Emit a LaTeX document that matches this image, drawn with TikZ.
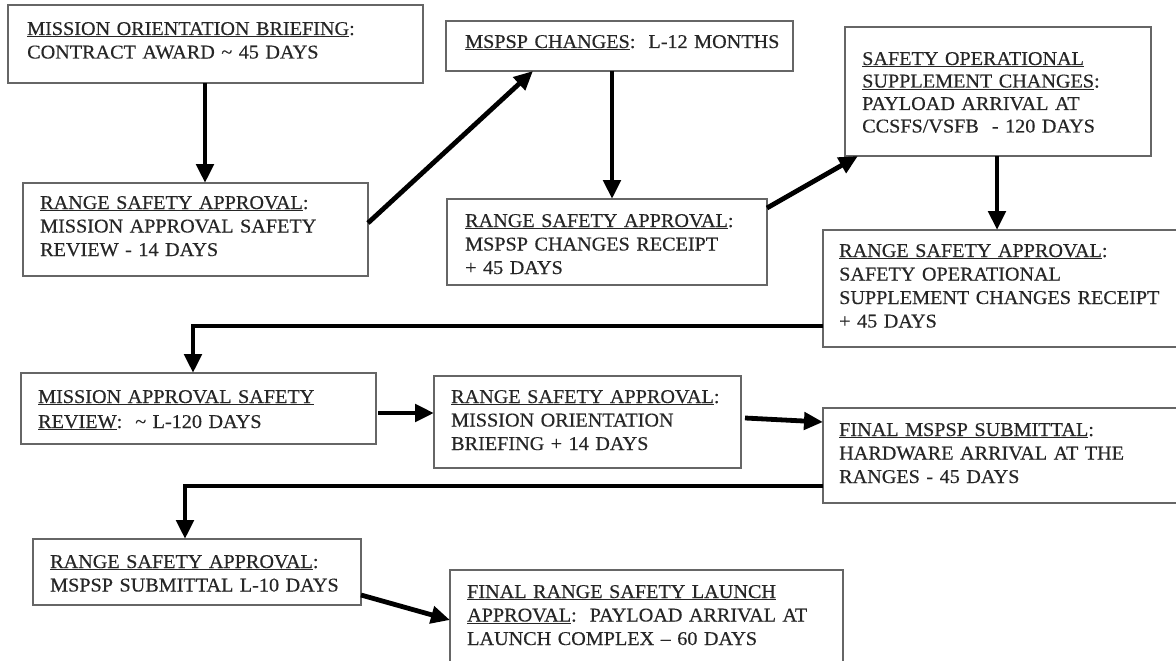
\documentclass[tikz,border=0pt]{standalone}
\usepackage{fontspec}
\setmainfont[FakeStretch=1.035,FakeBold=0.35]{Liberation Serif}
\usetikzlibrary{arrows.meta}
\definecolor{boxgray}{HTML}{666666}
\definecolor{textgray}{HTML}{262626}
\newcommand\uln[1]{\underline{#1}}
\tikzset{
  box/.style={draw=boxgray, line width=1.7pt, anchor=north west, inner sep=0pt, outer sep=0pt},
  txt/.style={anchor=base west, align=left, inner sep=0pt, text width=390pt,
              font=\fontsize{19.5}{23.5}\selectfont, text=textgray},
  arr/.style={line width=4.8pt, -{Triangle[length=19pt,width=17pt]}}
}
\begin{document}
\begin{tikzpicture}[x=1pt,y=-1pt]
\useasboundingbox (0,0) rectangle (1176,661);
\fill[white] (0,0) rectangle (1176,661);
\clip (0,0) rectangle (1176,661);
% boxes
\node[box, minimum width=415pt, minimum height=78pt]  (b1)  at (8,5) {};
\node[box, minimum width=345pt, minimum height=93pt]  (b2)  at (23,183) {};
\node[box, minimum width=347pt, minimum height=50pt]  (b3)  at (446,21) {};
\node[box, minimum width=320pt, minimum height=86pt]  (b4)  at (447,199) {};
\node[box, minimum width=306pt, minimum height=129pt] (b5)  at (845,27) {};
\node[box, minimum width=380pt, minimum height=117pt] (b6)  at (823,230) {};
\node[box, minimum width=355pt, minimum height=71pt]  (b7)  at (21,373) {};
\node[box, minimum width=307pt, minimum height=92pt]  (b8)  at (434,376) {};
\node[box, minimum width=380pt, minimum height=95pt]  (b9)  at (823,408) {};
\node[box, minimum width=328pt, minimum height=66pt]  (b10) at (33,539) {};
\node[box, minimum width=393pt, minimum height=120pt] (b11) at (450,570) {};
% texts
\node[txt] (t1) at (27,35) {\uln{MISSION ORIENTATION BRIEFING}:\\CONTRACT AWARD \textasciitilde{} 45 DAYS};
\node[txt] (t2) at (40,209) {\uln{RANGE SAFETY APPROVAL}:\\MISSION APPROVAL SAFETY\\REVIEW - 14 DAYS};
\node[txt] (t3) at (465,48) {\uln{MSPSP CHANGES}:\ \ L-12 MONTHS};
\node[txt] (t4) at (465,227) {\uln{RANGE SAFETY APPROVAL}:\\MSPSP CHANGES RECEIPT\\+ 45 DAYS};
\node[txt, font=\fontsize{19.5}{22.5}\selectfont] (t5) at (862,65) {\uln{SAFETY OPERATIONAL}\\\uln{SUPPLEMENT CHANGES}:\\PAYLOAD ARRIVAL AT\\CCSFS/VSFB\ \ - 120 DAYS};
\node[txt] (t6) at (839,257) {\uln{RANGE SAFETY APPROVAL}:\\SAFETY OPERATIONAL\\SUPPLEMENT CHANGES RECEIPT\\+ 45 DAYS};
\node[txt, font=\fontsize{19.5}{25}\selectfont] (t7) at (38,403) {\uln{MISSION APPROVAL SAFETY}\\\uln{REVIEW}:\ \ \textasciitilde{} L-120 DAYS};
\node[txt] (t8) at (451,403) {\uln{RANGE SAFETY APPROVAL}:\\MISSION ORIENTATION\\BRIEFING + 14 DAYS};
\node[txt] (t9) at (839,436) {\uln{FINAL MSPSP SUBMITTAL}:\\HARDWARE ARRIVAL AT THE\\RANGES - 45 DAYS};
\node[txt] (t10) at (50,568) {\uln{RANGE SAFETY APPROVAL}:\\MSPSP SUBMITTAL L-10 DAYS};
\node[txt] (t11) at (467,598) {\uln{FINAL RANGE SAFETY LAUNCH}\\\uln{APPROVAL}:\ \ PAYLOAD ARRIVAL AT\\LAUNCH COMPLEX -- 60 DAYS};
% arrows
\draw[arr] ([xshift=197pt]b1.south west) -- ([xshift=182pt]b2.north west);
\draw[arr] ([yshift=-40pt]b2.north east) -- ([xshift=87pt]b3.south west);
\draw[arr] ([xshift=166pt]b3.south west) -- ([xshift=165pt]b4.north west);
\draw[arr] ([yshift=-9pt]b4.north east) -- ([xshift=13pt]b5.south west);
\draw[arr] ([xshift=152pt]b5.south west) -- ([xshift=174pt]b6.north west);
\draw[arr] ([yshift=-96pt]b6.north west) -| ([xshift=172pt]b7.north west);
\draw[arr] ([xshift=2pt,yshift=-40pt]b7.north east) -- ([yshift=-37pt]b8.north west);
\draw[arr] ([xshift=4pt,yshift=-42pt]b8.north east) -- ([yshift=-14pt]b9.north west);
\draw[arr] ([yshift=-78pt]b9.north west) -| ([xshift=152pt]b10.north west);
\draw[arr] ([yshift=-56pt]b10.north east) -- ([yshift=-50pt]b11.north west);
\end{tikzpicture}
\end{document}
